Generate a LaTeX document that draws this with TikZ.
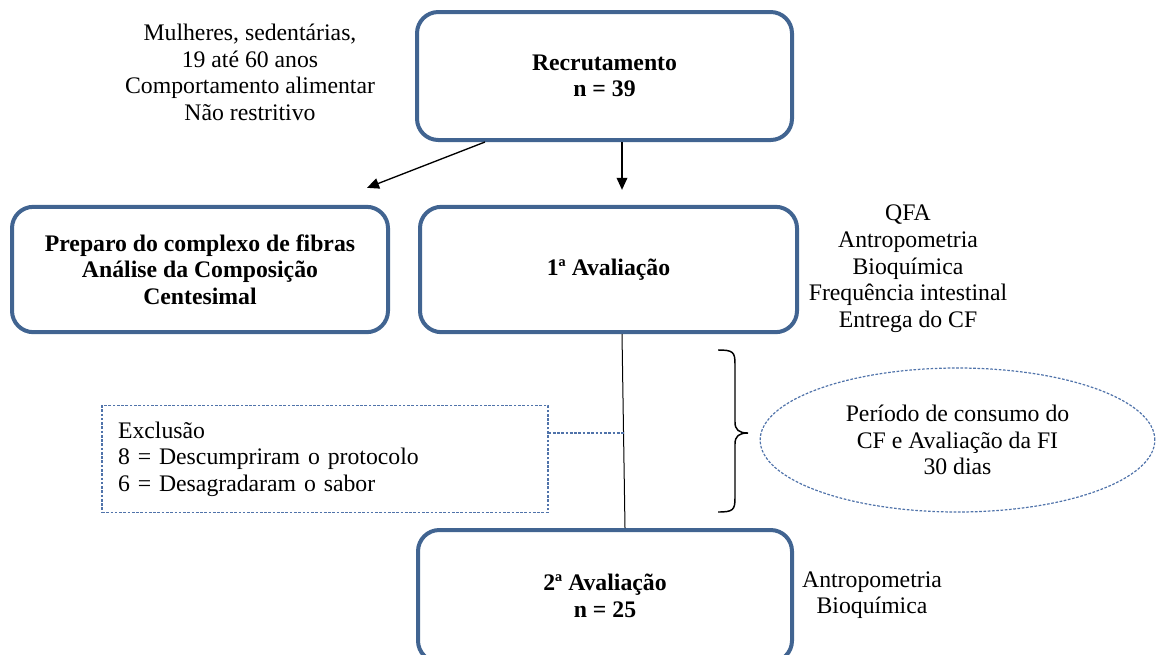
\documentclass[tikz,border=0pt]{standalone}
\usepackage{fontspec}
\setmainfont{Liberation Serif}
\usetikzlibrary{arrows.meta,shapes.geometric,calc}

\definecolor{boxblue}{RGB}{65,100,145}
\definecolor{dashblue}{RGB}{80,115,170}

\tikzset{every picture/.style={line width=0.75pt}}
\tikzset{
  every node/.append style={font=\fontsize{17.8}{20}\selectfont},
  etapa/.style={draw=boxblue, line width=3pt, rounded corners=16pt, align=center,
    font=\fontsize{17.8}{20}\selectfont\bfseries, minimum width=281.25pt, minimum height=94pt, inner sep=0.75pt},
  nota/.style={align=center, inner sep=0.75pt},
  tracejado/.style={draw=dashblue, dash pattern={on 2pt off 1.2pt}, line width=0.9pt},
  seta/.style={-{Triangle[length=9pt,width=8pt]}, line width=1pt},
}

\begin{document}
\begin{tikzpicture}[x=0.75pt,y=0.75pt,yscale=-1,xscale=1]
\useasboundingbox (0,0) rectangle (1156,654);
\clip (0,0) rectangle (1156,654);

%Rounded Rect
\node [etapa, minimum height=96pt] (recr) at (604.5,76) {Recrutamento\\n = 39};
%Rounded Rect
\node [etapa, minimum width=282pt] (prep) at (200,269.5) {Preparo do complexo de fibras\\Análise da Composição\\Centesimal};
%Rounded Rect
\node [etapa, minimum width=282.75pt] (aval1) at (608.5,269.5) {1ª Avaliação};
%Rounded Rect
\node [etapa, minimum width=280.5pt, minimum height=99pt] (aval2) at (605,596) {2ª Avaliação\\n = 25};

%Dashed Rect
\node [tracejado, minimum width=334.5pt, minimum height=79.5pt, text width=310.5pt, align=left, inner sep=12pt] (excl) at (325,459)
  {Exclusão\\8 = Descumpriram o protocolo\\6 = Desagradaram o sabor};
%Dashed Ellipse
\node [tracejado, ellipse, minimum width=296pt, minimum height=108pt, align=center, inner sep=0.75pt] (peri) at (957.5,440)
  {Período de consumo do\\CF e Avaliação da FI\\30 dias};

% Text Node
\node [nota] (crit) at (250,72.5) {Mulheres, sedentárias,\\19 até 60 anos\\Comportamento alimentar\\Não restritivo};
% Text Node
\node [nota] (aval1info) at (908,269) {QFA\\Antropometria\\Bioquímica\\Frequência intestinal\\Entrega do CF};
% Text Node
\node [nota] (aval2info) at (872,595) {Antropometria\\Bioquímica};

%Straight Lines
\draw [seta] ($(recr.south west)+(70,0)$) -- ($(prep.north east)+(-23,-17)$);
\draw [seta] ($(recr.south)+(17.5,0)$) -- ($(aval1.north)+(13.5,-15)$);
\draw ($(aval1.south)+(13.5,0)$) -- coordinate[pos=0.51] (juncao) ($(aval2.north)+(20,0)$);
\draw [tracejado] ($(excl.east)+(0,-26)$) coordinate (exclsaida) -- (exclsaida -| juncao);

%Brace
\coordinate (chavetopo) at (718,350);
\coordinate (chavebase) at (718,512);
\coordinate (chaveponta) at (748,433);
\draw [line width=1.1pt] (chavetopo) .. controls (733,350) and (735,352) .. (735,364) -- (735,422)
  .. controls (735,430) and (739,433) .. (chaveponta) .. controls (739,433) and (735,436) .. (735,444)
  -- (735,498) .. controls (735,510) and (733,512) .. (chavebase);

\end{tikzpicture}
\end{document}
